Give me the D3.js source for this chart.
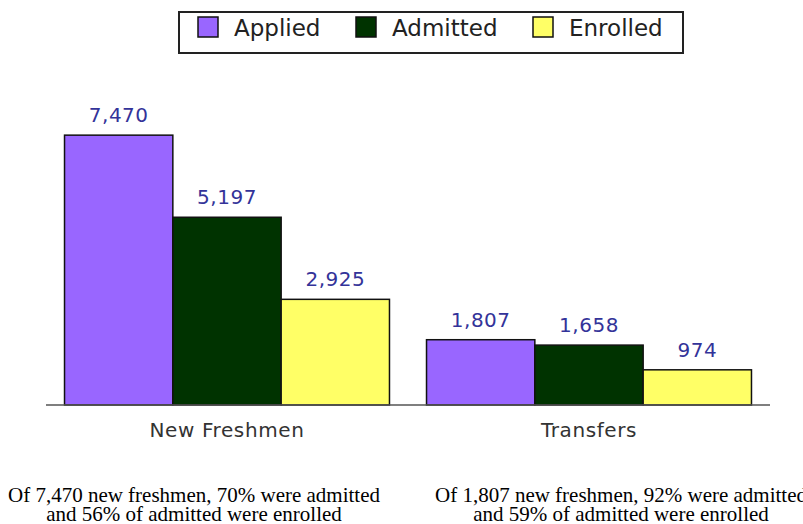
<!DOCTYPE html>
<html lang="en">
<head>
<meta charset="utf-8">
<title>Applied, Admitted, Enrolled</title>
<script src="https://cdn.jsdelivr.net/npm/d3@7"></script>
<style>
  body { margin: 0; background: #fff; }
  svg text { font-family: "DejaVu Sans", Verdana, sans-serif; }
</style>
</head>
<body>
<div id="chart"></div>
<script>
// data
var categories = ["New Freshmen", "Transfers"];
var series = ["Applied", "Admitted", "Enrolled"];
var applied = [7470, 1807];
var admitted = [5197, 1658];
var enrolled = [2925, 974];
var notes = [
  ["Of 7,470 new freshmen, 70% were admitted", "and 56% of admitted were enrolled"],
  ["Of 1,807 new freshmen, 92% were admitted", "and 59% of admitted were enrolled"]
];

var colors = {"Applied": "#9966ff", "Admitted": "#003300", "Enrolled": "#ffff66"};
var values = {"Applied": applied, "Admitted": admitted, "Enrolled": enrolled};

var w = 803, h = 524;

var svg = d3.select("#chart").append("svg")
  .attr("width", w)
  .attr("height", h);

// scales
var x0 = d3.scaleBand().domain(categories).range([46, 770]);
var x1 = d3.scaleBand().domain(series).range([0, x0.bandwidth()])
  .paddingInner(0).paddingOuter(0.171);
var y = d3.scaleLinear().domain([0, 8000]).range([405, 116]);

var fmt = d3.format(",");

// bars
var rows = [];
categories.forEach(function(c, i) {
  series.forEach(function(s) {
    rows.push({cat: c, s: s, v: values[s][i]});
  });
});

svg.selectAll("rect.bar")
  .data(rows)
  .enter()
  .append("rect")
  .attr("class", "bar")
  .attr("x", function(d) { return x0(d.cat) + x1(d.s); })
  .attr("y", function(d) { return y(d.v); })
  .attr("width", x1.bandwidth())
  .attr("height", function(d) { return y(0) - y(d.v); })
  .attr("fill", function(d) { return colors[d.s]; })
  .attr("stroke", "#111")
  .attr("stroke-width", 1.5);

// value labels
svg.selectAll("text.val")
  .data(rows)
  .enter()
  .append("text")
  .attr("class", "val")
  .attr("x", function(d) { return x0(d.cat) + x1(d.s) + x1.bandwidth() / 2; })
  .attr("y", function(d) { return y(d.v) - 13; })
  .attr("text-anchor", "middle")
  .attr("font-size", "20px")
  .attr("letter-spacing", "0.5px")
  .attr("fill", "#333399")
  .text(function(d) { return fmt(d.v); });

// axis line
svg.append("line")
  .attr("x1", 46).attr("x2", 770)
  .attr("y1", y(0)).attr("y2", y(0))
  .attr("stroke", "#555")
  .attr("stroke-width", 1.5);

// category labels
svg.selectAll("text.cat")
  .data(categories)
  .enter()
  .append("text")
  .attr("class", "cat")
  .attr("x", function(d) { return x0(d) + x0.bandwidth() / 2; })
  .attr("y", 437)
  .attr("text-anchor", "middle")
  .attr("font-size", "20px")
  .attr("letter-spacing", "0.6px")
  .attr("fill", "#333")
  .text(function(d) { return d; });

// legend
svg.append("rect")
  .attr("x", 179).attr("y", 12)
  .attr("width", 504).attr("height", 41)
  .attr("fill", "#fff")
  .attr("stroke", "#222")
  .attr("stroke-width", 2);

var legX = [198, 356, 533];
var leg = svg.selectAll("g.leg")
  .data(series)
  .enter()
  .append("g")
  .attr("class", "leg")
  .attr("transform", function(d, i) { return "translate(" + legX[i] + ",17)"; });

leg.append("rect")
  .attr("width", 20).attr("height", 20)
  .attr("fill", function(d) { return colors[d]; })
  .attr("stroke", "#111")
  .attr("stroke-width", 1.5);

leg.append("text")
  .attr("x", 36)
  .attr("y", 19)
  .attr("font-size", "23px")
  .attr("fill", "#222")
  .text(function(d) { return d; });

// notes under chart
var noteX = [194, 621];
notes.forEach(function(lines, i) {
  lines.forEach(function(t, j) {
    svg.append("text")
      .attr("x", noteX[i])
      .attr("y", 502 + j * 19)
      .attr("text-anchor", "middle")
      .style("font-family", "'Liberation Serif', 'Times New Roman', serif")
      .attr("font-size", "21px")
      .attr("fill", "#000")
      .text(t);
  });
});
</script>
</body>
</html>
